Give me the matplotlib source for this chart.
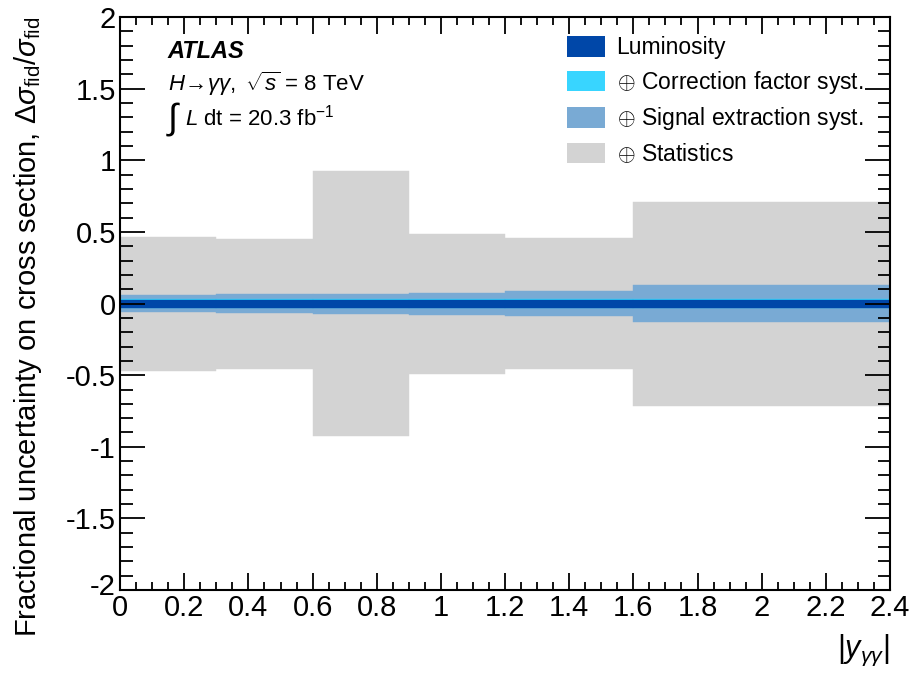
import numpy as np
import matplotlib.pyplot as plt
import matplotlib.transforms as mtransforms
from matplotlib.patches import Patch
from matplotlib.ticker import MultipleLocator

plt.rcParams['font.family'] = ['Liberation Sans', 'DejaVu Sans']
plt.rcParams['mathtext.fontset'] = 'custom'
plt.rcParams['mathtext.rm'] = 'Liberation Sans'
plt.rcParams['mathtext.it'] = 'Liberation Sans:italic'
plt.rcParams['mathtext.bf'] = 'Liberation Sans:bold'

# |y_gg| bins and cumulative (quadrature-summed) fractional uncertainties
bin_edges = [0.0, 0.3, 0.6, 0.9, 1.2, 1.6, 2.4]
lumi = [0.028, 0.028, 0.028, 0.028, 0.028, 0.028]
corr = [0.033, 0.033, 0.033, 0.033, 0.033, 0.033]
sigext = [0.061, 0.066, 0.070, 0.077, 0.085, 0.127]
stats = [0.468, 0.454, 0.928, 0.489, 0.460, 0.712]

labels = ['Luminosity', r'$\oplus$ Correction factor syst.',
          r'$\oplus$ Signal extraction syst.', r'$\oplus$ Statistics']
colors = ['#0047a8', '#38d5ff', '#79aad4', '#d3d3d3']

fig = plt.figure(figsize=(9.1, 6.74), dpi=100)
ax = fig.add_axes([0.132, 0.1246, 0.846, 0.850])

lefts = np.array(bin_edges[:-1])
widths = np.diff(bin_edges)
for vals, c in zip([stats, sigext, corr, lumi], colors[::-1]):
    v = np.array(vals)
    ax.bar(lefts, 2 * v, bottom=-v, width=widths, align='edge',
           color=c, edgecolor=c, linewidth=0.3)

ax.set_xlim(0, 2.4)
ax.set_ylim(-2, 2)
ax.xaxis.set_minor_locator(MultipleLocator(0.05))
ax.yaxis.set_minor_locator(MultipleLocator(0.1))
ax.set_xticks(np.arange(0, 2.41, 0.2))
ax.set_xticklabels(['0', '0.2', '0.4', '0.6', '0.8', '1', '1.2', '1.4', '1.6',
                    '1.8', '2', '2.2', '2.4'])
ax.set_yticks(np.arange(-2, 2.01, 0.5))
ax.set_yticklabels(['-2', '-1.5', '-1', '-0.5', '0', '0.5', '1', '1.5', '2'])

ax.tick_params(axis='both', which='both', direction='in', top=True, right=True,
               width=1.3, labelsize=21)
ax.tick_params(axis='y', which='major', length=18, pad=3)
ax.tick_params(axis='y', which='minor', length=9)
ax.tick_params(axis='x', which='major', length=12, pad=3)
ax.tick_params(axis='x', which='minor', length=6)
for s in ax.spines.values():
    s.set_linewidth(1.5)

# lift the bottom y label a little so it clears the x-axis "0"
lo = ax.get_yticklabels()[0]
lo.set_transform(lo.get_transform() +
                 mtransforms.ScaledTranslation(0, 4 / 72, fig.dpi_scale_trans))

ax.set_ylabel(r'Fractional uncertainty on cross section, $\Delta\sigma_{\rm fid}/\sigma_{\rm fid}$',
              fontsize=21)
ax.yaxis.set_label_coords(-0.099, 0.46)
ax.set_xlabel(r'$|y_{\gamma\gamma}|$', fontsize=22, loc='right')
ax.xaxis.set_label_coords(1.0, -0.075)

ax.text(0.062, 0.94, 'ATLAS', transform=ax.transAxes, fontsize=17,
        fontweight='bold', fontstyle='italic', va='center')
ax.text(0.062, 0.883, r'$H\!\rightarrow\!\gamma\gamma,\ \sqrt{s}$ = 8 TeV',
        transform=ax.transAxes, fontsize=16, va='center')
ax.text(0.060, 0.822, r'$\int$', transform=ax.transAxes, fontsize=26,
        va='center')
ax.text(0.084, 0.825, r'$L$ dt = 20.3 fb$^{-1}$',
        transform=ax.transAxes, fontsize=16, va='center')

handles = [Patch(facecolor=c, edgecolor='none') for c in colors]
ax.legend(handles, labels, loc='upper left', bbox_to_anchor=(0.568, 0.983),
          frameon=False, fontsize=16.5, handlelength=1.66, handleheight=1.0,
          handletextpad=0.52, labelspacing=0.42, borderaxespad=0)

fig.savefig('out.png', dpi=100)
